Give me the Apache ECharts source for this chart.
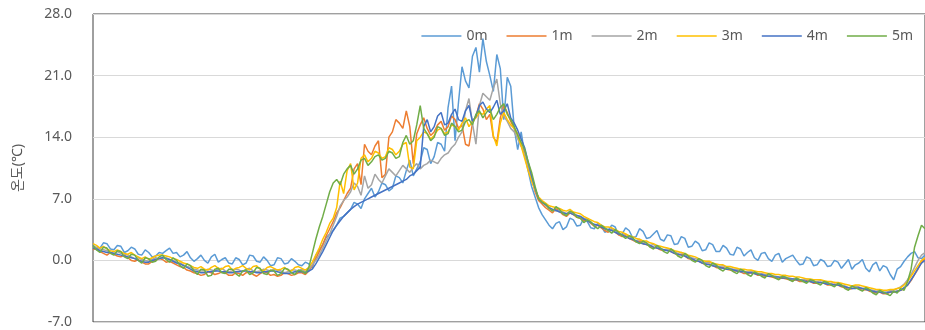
<!DOCTYPE html>
<html>
<head>
<meta charset="utf-8">
<script src="https://cdn.jsdelivr.net/npm/echarts@6/dist/echarts.min.js"></script>
<style>
  html, body { margin: 0; padding: 0; background: #fff; }
  #chart { width: 925px; height: 330px; }
</style>
</head>
<body>
<div id="chart"></div>
<script>
// 관측 깊이별 온도 (시간 순서, 240개 샘플, 한 줄에 20개)
const seriesNames = ['0m', '1m', '2m', '3m', '4m', '5m'];
const seriesColors = ['#5B9BD5', '#ED7D31', '#A5A5A5', '#FFC000', '#4472C4', '#70AD47'];
const yTicks = { min: -7, max: 28, step: 7 };

const t0m = [
  1.8, 1.2, 1.4, 2.0, 1.9, 1.3, 1.2, 1.7, 1.6, 0.9, 1.1, 1.5, 1.3, 0.7, 0.6, 1.2, 0.9, 0.4, 0.5, 0.9,
  0.8, 1.1, 1.4, 0.8, 0.9, 0.4, 0.6, 1.0, 0.3, -0.1, 0.2, 0.6, 0.0, -0.3, 0.4, 0.7, -0.2, 0.1, 0.3, -0.3,
  -0.4, 0.3, 0.1, -0.5, -0.3, 0.6, 0.5, -0.1, -0.2, 0.4, 0.0, -0.6, -0.5, 0.3, 0.2, -0.4, -0.3, 0.2, -0.1, -0.5,
  -0.6, -0.2, -0.4, -0.9, 0.6, 1.2, 1.8, 2.6, 3.0, 3.4, 4.0, 4.8, 5.0, 5.4, 5.8, 6.6, 6.4, 5.9, 7.0, 7.6,
  8.2, 7.2, 7.8, 8.8, 8.6, 7.9, 8.2, 9.6, 9.4, 8.8, 10.2, 11.4, 9.6, 10.4, 11.2, 12.8, 12.6, 11.0, 11.8, 13.4,
  13.2, 12.4, 17.4, 19.8, 13.6, 18.0, 22.0, 20.4, 19.6, 23.2, 24.2, 21.4, 25.2, 22.6, 21.0, 19.2, 23.4, 21.8, 16.0, 20.8,
  19.8, 15.0, 12.6, 14.6, 12.0, 10.2, 8.4, 7.2, 6.0, 5.2, 4.6, 4.0, 3.6, 4.2, 4.4, 3.5, 3.8, 4.8, 4.6, 3.9,
  4.0, 4.8, 4.4, 3.7, 3.6, 4.2, 3.9, 3.2, 3.4, 4.0, 3.8, 2.9, 3.0, 3.7, 3.4, 2.6, 2.7, 3.6, 3.3, 2.5,
  2.6, 3.0, 3.4, 2.4, 2.2, 2.9, 2.8, 1.8, 1.9, 2.7, 2.5, 1.5, 1.6, 2.2, 1.9, 1.1, 1.2, 2.0, 1.8, 1.0,
  1.0, 1.7, 1.4, 0.7, 0.6, 1.5, 1.3, 0.5, 0.9, 1.2, 0.3, 0.0, 0.8, 0.9, 0.2, -0.1, 0.6, 0.8, -0.2, 0.2,
  0.4, 0.6, 0.0, -0.5, -0.4, 0.4, 0.2, -0.6, -0.5, 0.1, -0.1, -0.7, -0.6, 0.0, -0.2, -0.9, -0.4, 0.1, -1.0, -0.5,
  -0.3, 0.1, -0.9, -1.3, -0.5, -0.2, -1.2, -0.6, -0.8, -1.6, -2.2, -1.0, -0.7, -0.1, 0.4, 0.8, 1.0, 0.3, 0.2, 0.6
];
const t1m = [
  1.2, 1.4, 1.0, 0.8, 0.6, 0.9, 0.7, 0.5, 0.4, 0.6, 0.3, 0.0, -0.1, 0.1, -0.2, -0.4, -0.4, -0.1, 0.0, 0.2,
  0.1, -0.2, -0.1, -0.3, -0.5, -0.7, -0.8, -1.1, -1.2, -1.4, -1.5, -1.7, -1.6, -1.3, -1.4, -1.6, -1.5, -1.3, -1.4, -1.7,
  -1.7, -1.4, -1.5, -1.7, -1.4, -1.3, -1.6, -1.8, -1.5, -1.3, -1.4, -1.7, -1.6, -1.8, -1.7, -1.4, -1.5, -1.7, -1.6, -1.4,
  -1.4, -1.6, -1.2, -0.6, 0.2, 1.0, 1.8, 2.8, 3.6, 4.4, 5.4, 6.0, 6.8, 7.6, 8.2, 10.4, 11.0, 8.6, 13.2, 12.4,
  12.0, 13.0, 13.6, 9.4, 9.8, 14.0, 14.6, 16.0, 15.6, 15.0, 17.0, 15.2, 11.0, 14.4, 15.4, 16.2, 15.0, 14.2, 14.6, 15.4,
  15.8, 14.8, 15.2, 16.4, 16.0, 15.0, 15.4, 13.2, 13.0, 15.6, 16.4, 17.8, 17.2, 16.0, 16.6, 14.0, 13.4, 16.2, 17.6, 16.8,
  15.8, 15.0, 14.4, 13.0, 12.2, 10.6, 9.4, 7.8, 6.8, 6.4, 6.0, 5.7, 5.4, 5.9, 5.6, 5.2, 5.0, 5.4, 5.2, 4.9,
  4.8, 4.5, 4.6, 4.2, 3.9, 4.0, 3.7, 3.4, 3.2, 3.5, 3.2, 2.9, 2.7, 2.8, 2.5, 2.3, 2.1, 2.2, 1.9, 1.8,
  1.6, 1.5, 1.4, 1.2, 1.1, 1.2, 1.0, 0.8, 0.6, 0.7, 0.5, 0.2, 0.1, 0.0, -0.1, -0.3, -0.5, -0.4, -0.6, -0.8,
  -0.9, -0.8, -1.0, -1.1, -1.2, -1.2, -1.3, -1.5, -1.5, -1.4, -1.5, -1.7, -1.7, -1.8, -1.8, -1.9, -2.0, -2.1, -2.0, -2.1,
  -2.2, -2.3, -2.2, -2.4, -2.4, -2.3, -2.4, -2.6, -2.6, -2.5, -2.6, -2.8, -2.8, -2.7, -2.8, -3.0, -3.1, -3.3, -3.2, -3.1,
  -3.2, -3.4, -3.3, -3.5, -3.6, -3.7, -3.6, -3.8, -3.8, -3.6, -3.6, -3.5, -3.4, -3.2, -2.8, -2.3, -1.6, -1.0, -0.2, 0.2
];
const t2m = [
  1.6, 1.5, 1.3, 1.2, 1.1, 0.9, 0.8, 1.0, 0.8, 0.7, 0.6, 0.4, 0.2, 0.3, 0.1, 0.0, -0.1, 0.1, 0.3, 0.2,
  0.4, 0.3, 0.1, 0.0, -0.2, -0.3, -0.5, -0.7, -0.8, -1.0, -1.1, -1.2, -1.2, -1.0, -1.1, -1.2, -1.0, -0.9, -1.2, -1.3,
  -1.2, -1.0, -1.1, -1.3, -1.0, -0.9, -1.2, -1.3, -1.2, -1.0, -1.1, -1.2, -1.0, -1.1, -1.2, -1.4, -1.3, -1.1, -1.1, -1.2,
  -1.0, -1.3, -1.0, -0.5, 0.0, 0.6, 1.4, 2.2, 3.0, 4.0, 5.0, 6.2, 6.8, 7.2, 7.8, 8.8, 8.4, 7.4, 9.6, 8.2,
  8.6, 9.8, 9.2, 8.8, 9.6, 10.4, 10.0, 9.6, 10.2, 10.8, 10.4, 10.0, 10.6, 11.0, 10.4, 10.8, 11.0, 11.4, 11.2, 11.0,
  11.6, 12.0, 12.2, 12.8, 13.2, 14.0, 14.6, 17.0, 18.4, 15.6, 13.2, 17.6, 19.0, 18.6, 18.2, 19.6, 20.6, 17.8, 16.4, 15.8,
  15.0, 14.6, 13.8, 13.0, 12.0, 10.6, 9.2, 8.0, 7.1, 6.7, 6.4, 6.0, 5.8, 5.6, 5.7, 5.5, 5.3, 5.6, 5.4, 5.1,
  5.0, 4.8, 4.7, 4.3, 4.0, 4.1, 3.9, 3.6, 3.4, 3.6, 3.4, 3.1, 2.9, 3.0, 2.7, 2.4, 2.2, 2.4, 2.1, 2.0,
  1.7, 1.8, 1.6, 1.4, 1.2, 1.3, 1.2, 1.0, 0.8, 0.9, 0.7, 0.5, 0.3, 0.2, 0.1, -0.1, -0.3, -0.2, -0.4, -0.6,
  -0.7, -0.6, -0.8, -0.9, -1.0, -1.0, -1.1, -1.3, -1.3, -1.2, -1.4, -1.5, -1.5, -1.6, -1.6, -1.7, -1.8, -1.9, -1.8, -1.9,
  -2.0, -2.1, -2.0, -2.2, -2.2, -2.1, -2.2, -2.4, -2.4, -2.3, -2.4, -2.6, -2.6, -2.5, -2.6, -2.8, -2.9, -3.1, -3.0, -2.9,
  -3.0, -3.2, -3.1, -3.3, -3.4, -3.5, -3.4, -3.6, -3.6, -3.4, -3.4, -3.2, -3.0, -2.7, -2.2, -1.6, -0.8, 0.0, 0.6, 0.9
];
const t3m = [
  1.9, 1.7, 1.4, 1.6, 1.3, 1.1, 1.0, 1.2, 1.0, 0.8, 0.7, 0.9, 0.6, 0.4, 0.2, 0.4, 0.1, 0.3, 0.5, 0.6,
  0.6, 0.5, 0.4, 0.2, 0.1, -0.1, -0.3, -0.4, -0.6, -0.8, -0.9, -0.7, -1.0, -1.1, -0.8, -0.6, -0.9, -1.0, -0.7, -0.6,
  -1.1, -0.9, -0.8, -0.6, -0.9, -1.1, -0.7, -0.6, -1.0, -1.2, -0.8, -0.7, -0.9, -1.1, -1.0, -0.8, -1.1, -1.2, -0.8, -0.7,
  -0.9, -1.1, -0.8, -0.2, 0.6, 1.4, 2.4, 3.2, 4.2, 4.8, 6.0, 9.0, 7.6, 10.2, 11.0, 8.0, 8.8, 11.6, 12.0, 11.2,
  11.6, 12.4, 12.2, 11.6, 11.8, 12.8, 12.6, 12.0, 12.4, 13.2, 13.4, 10.6, 10.4, 13.6, 14.0, 14.6, 14.4, 13.8, 14.2, 14.8,
  15.0, 14.4, 14.6, 15.4, 15.2, 14.8, 15.6, 16.2, 15.2, 15.8, 16.2, 16.8, 16.6, 17.2, 17.6, 14.2, 13.0, 15.6, 16.8, 16.0,
  15.4, 15.0, 14.2, 13.0, 11.6, 10.2, 9.0, 8.0, 7.2, 6.8, 6.5, 6.2, 6.1, 6.0, 5.9, 5.7, 5.6, 5.8, 5.5, 5.4,
  5.3, 5.0, 4.8, 4.6, 4.4, 4.3, 4.0, 3.8, 3.8, 3.7, 3.5, 3.3, 3.2, 3.0, 2.8, 2.7, 2.5, 2.4, 2.2, 2.2,
  2.0, 1.9, 1.7, 1.6, 1.5, 1.4, 1.3, 1.1, 1.0, 0.9, 0.8, 0.6, 0.5, 0.4, 0.2, 0.0, -0.1, -0.1, -0.3, -0.4,
  -0.5, -0.5, -0.7, -0.7, -0.8, -0.9, -1.0, -1.0, -1.1, -1.1, -1.2, -1.3, -1.3, -1.4, -1.5, -1.5, -1.6, -1.6, -1.7, -1.7,
  -1.8, -1.8, -1.9, -1.9, -2.0, -2.1, -2.1, -2.2, -2.2, -2.2, -2.3, -2.4, -2.4, -2.5, -2.5, -2.6, -2.7, -2.8, -2.9, -2.8,
  -2.8, -2.9, -3.0, -3.1, -3.2, -3.3, -3.3, -3.4, -3.4, -3.3, -3.3, -3.2, -3.1, -2.8, -2.4, -1.8, -1.2, -0.6, 0.0, 0.3
];
const t4m = [
  1.4, 1.3, 1.1, 1.0, 0.9, 0.9, 0.8, 0.7, 0.6, 0.5, 0.4, 0.3, 0.2, 0.0, -0.1, -0.2, -0.2, 0.0, 0.1, 0.2,
  0.3, 0.2, 0.1, -0.1, -0.3, -0.4, -0.6, -0.8, -1.0, -1.2, -1.3, -1.4, -1.4, -1.3, -1.3, -1.2, -1.2, -1.3, -1.3, -1.4,
  -1.4, -1.3, -1.3, -1.2, -1.2, -1.3, -1.3, -1.4, -1.4, -1.3, -1.3, -1.2, -1.2, -1.3, -1.4, -1.5, -1.5, -1.4, -1.3, -1.3,
  -1.3, -1.4, -1.2, -1.0, -0.4, 0.3, 1.0, 1.8, 2.6, 3.4, 4.0, 4.5, 5.0, 5.4, 5.8, 6.1, 6.4, 6.6, 6.8, 7.0,
  7.2, 7.4, 7.6, 7.8, 8.0, 8.2, 8.4, 8.6, 8.8, 9.0, 9.2, 9.6, 9.8, 10.2, 10.6, 15.2, 16.0, 14.6, 15.2, 16.4,
  16.8, 15.4, 15.6, 16.6, 17.2, 16.0, 15.8, 17.0, 17.6, 15.8, 16.4, 17.6, 18.0, 17.2, 16.8, 17.4, 18.2, 16.6, 17.0, 17.8,
  16.2, 15.6, 14.8, 13.8, 12.8, 11.2, 9.6, 8.2, 7.0, 6.6, 6.3, 6.0, 5.8, 5.7, 5.5, 5.4, 5.3, 5.4, 5.2, 5.1,
  5.0, 4.7, 4.5, 4.3, 4.1, 4.0, 3.8, 3.6, 3.5, 3.4, 3.2, 3.0, 2.9, 2.7, 2.5, 2.4, 2.2, 2.0, 1.9, 1.8,
  1.7, 1.5, 1.4, 1.3, 1.2, 1.1, 1.0, 0.8, 0.7, 0.6, 0.5, 0.3, 0.2, 0.0, -0.1, -0.3, -0.4, -0.5, -0.6, -0.7,
  -0.8, -0.9, -1.0, -1.0, -1.1, -1.2, -1.3, -1.3, -1.4, -1.4, -1.5, -1.6, -1.6, -1.7, -1.8, -1.8, -1.9, -1.9, -2.0, -2.0,
  -2.1, -2.1, -2.2, -2.2, -2.3, -2.4, -2.4, -2.5, -2.5, -2.5, -2.6, -2.7, -2.7, -2.8, -2.8, -2.9, -3.0, -3.1, -3.2, -3.2,
  -3.1, -3.2, -3.3, -3.4, -3.5, -3.6, -3.6, -3.7, -3.7, -3.6, -3.6, -3.5, -3.4, -3.1, -2.8, -2.2, -1.6, -0.9, -0.3, 0.0
];
const t5m = [
  1.7, 1.2, 0.9, 1.5, 1.4, 0.8, 0.6, 1.1, 1.0, 0.4, 0.2, 0.7, 0.6, 0.0, -0.3, 0.3, 0.2, -0.2, -0.1, 0.4,
  0.6, 0.1, -0.2, 0.3, 0.0, -0.6, -0.9, -0.4, -0.6, -1.2, -1.6, -1.0, -1.1, -1.8, -1.7, -1.0, -0.9, -1.4, -1.5, -1.0,
  -1.0, -1.5, -1.8, -1.2, -1.1, -1.6, -1.4, -0.8, -0.9, -1.5, -1.6, -1.1, -1.2, -1.7, -1.5, -0.9, -1.0, -1.4, -1.6, -1.1,
  -1.2, -1.5, -0.8, 0.8, 2.4, 3.8, 5.0, 6.4, 7.8, 8.8, 9.2, 8.6, 9.8, 10.4, 10.8, 9.8, 10.4, 11.4, 11.6, 10.8,
  11.2, 11.8, 12.0, 11.4, 11.6, 12.4, 12.2, 11.6, 11.8, 13.4, 14.2, 13.2, 13.6, 15.4, 17.6, 15.0, 14.4, 13.6, 14.0, 15.2,
  15.0, 14.2, 14.4, 15.6, 15.2, 14.6, 14.8, 15.8, 16.0, 15.4, 16.6, 17.0, 16.2, 16.8, 17.2, 16.0, 16.6, 17.4, 17.8, 16.6,
  16.0, 15.2, 14.2, 13.4, 12.6, 11.2, 10.0, 8.4, 7.0, 6.6, 6.4, 5.9, 5.6, 6.1, 5.8, 5.3, 5.1, 5.6, 5.4, 4.9,
  4.8, 4.3, 4.6, 4.4, 3.9, 3.6, 4.0, 3.7, 3.4, 3.1, 3.5, 3.2, 2.8, 2.5, 2.8, 2.6, 2.1, 1.9, 2.2, 2.0,
  1.5, 1.3, 1.7, 1.4, 1.0, 0.8, 1.3, 1.0, 0.5, 0.3, 0.8, 0.5, 0.0, -0.2, 0.2, 0.0, -0.6, -0.8, -0.3, -0.5,
  -1.0, -1.2, -0.8, -1.0, -1.3, -1.5, -1.0, -1.2, -1.6, -1.8, -1.3, -1.5, -1.8, -2.0, -1.5, -1.7, -2.0, -2.2, -1.8, -1.9,
  -2.2, -2.4, -2.0, -2.2, -2.4, -2.6, -2.2, -2.3, -2.6, -2.8, -2.4, -2.5, -2.8, -3.0, -2.6, -2.8, -3.2, -3.4, -2.9, -3.1,
  -3.3, -3.5, -3.1, -3.3, -3.7, -3.9, -3.4, -3.6, -3.8, -4.0, -3.5, -3.7, -3.2, -3.4, -2.4, -1.0, 1.5, 2.8, 4.0, 3.6
];

const seriesData = [t0m, t1m, t2m, t3m, t4m, t5m];
const categories = t0m.map((_, i) => i);

const chart = echarts.init(document.getElementById('chart'), null, { renderer: 'canvas' });

const textColor = '#595959';
const fontFamily = '"Noto Sans", "Noto Sans CJK KR", sans-serif';

chart.setOption({
  animation: false,
  textStyle: { fontFamily },
  grid: {
    left: 93, right: -1, top: 14, bottom: 8,
    show: true, borderColor: '#404040', borderWidth: 1, backgroundColor: '#fff'
  },
  legend: {
    right: 7, top: 24,
    icon: 'rect', itemWidth: 40, itemHeight: 1.5, itemGap: 19,
    textStyle: { color: textColor, fontSize: 14, fontFamily },
    data: seriesNames
  },
  xAxis: {
    type: 'category',
    data: categories,
    boundaryGap: false,
    axisLine: { show: false },
    axisTick: { show: false },
    axisLabel: { show: false },
    splitLine: { show: false }
  },
  yAxis: {
    type: 'value',
    min: yTicks.min, max: yTicks.max, interval: yTicks.step,
    name: '온도(℃)',
    nameLocation: 'middle',
    nameGap: 68,
    nameTextStyle: { color: textColor, fontSize: 14, fontFamily },
    axisLine: { show: false },
    axisTick: { show: false },
    axisLabel: { color: textColor, fontSize: 14, margin: 21, formatter: v => v.toFixed(1) },
    splitLine: { lineStyle: { color: '#d9d9d9', width: 1 } }
  },
  series: seriesNames.map((name, idx) => ({
    name,
    type: 'line',
    data: seriesData[idx],
    symbol: 'none',
    lineStyle: { color: seriesColors[idx], width: 1.5 },
    itemStyle: { color: seriesColors[idx] }
  }))
});
</script>
</body>
</html>
